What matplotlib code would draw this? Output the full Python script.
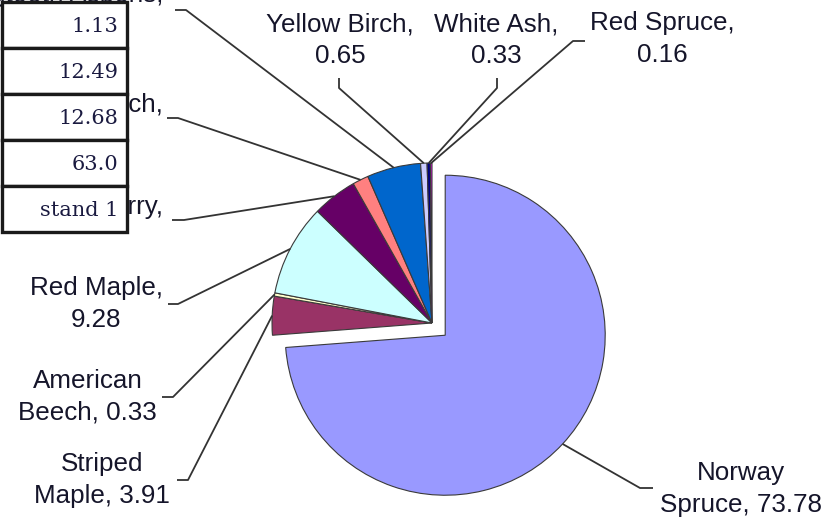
import matplotlib
matplotlib.use("Agg")
import matplotlib.pyplot as plt
from matplotlib.patches import Rectangle
import numpy as np

# ---------------- data ----------------
species = ["Norway\nSpruce", "Striped\nMaple", "American\nBeech", "Red Maple",
           "Black Cherry", "Paper Birch", "Bigtooth Aspens", "Yellow Birch",
           "White Ash", "Red Spruce"]
values = [73.78, 3.91, 0.33, 9.28, 4.52, 1.62, 5.42, 0.65, 0.33, 0.16]
colors = ["#9999FF", "#993366", "#FFFFCC", "#CCFFFF", "#660066", "#FF8080",
          "#0066CC", "#CCCCFF", "#000080", "#FF00FF"]
table_cells = ["1.13", "12.49", "12.68", "63.0", "stand 1"]

# ---------------- layout (pixel coords, y down) ----------------
W, H = 840, 521
def Y(y):
    return H - y

CX, CY, R = 432, 323, 160
explode = [18] + [0] * (len(values) - 1)

# text x, text y, ha, elbow1, elbow2
layout = [
    (741, 489, "center", (653, 488), (640, 488)),
    (170, 480, "right", (177, 480), (188, 480)),
    (157, 397, "right", (162, 397), (173, 397)),
    (163, 304, "right", (168, 304), (178, 304)),
    (163, 223, "right", (172, 220), (184, 220)),
    (163, 121, "right", (167, 118), (178, 118)),
    (163, 11, "right", (175, 10), (186, 10)),
    (340, 40, "center", (339, 78), (339, 88)),
    (496, 40, "center", (497, 78), (497, 88)),
    (662, 39, "center", (585, 41), (573, 41)),
]

FS = 26 * 72 / 100  # 26 px
TXT = "#15152a"

fig = plt.figure(figsize=(W / 100, H / 100), dpi=100)
ax = fig.add_axes([0, 0, 1, 1])
wedges, _ = ax.pie(values, colors=colors, startangle=90, counterclock=False,
                   explode=explode, radius=R, center=(CX, Y(CY)),
                   wedgeprops=dict(edgecolor="#3a3a3a", linewidth=0.8))
ax.set_xlim(0, W)
ax.set_ylim(0, H)
ax.set_aspect("equal")
ax.axis("off")

for w, name, v, (tx, ty, ha, e1, e2) in zip(wedges, species, values, layout):
    if "\n" in name:
        lab = f"{name}, {v:.2f}"
    else:
        lab = f"{name},\n{v:.2f}"
    ax.text(tx, Y(ty), lab, ha=ha, va="center", multialignment="center",
            fontsize=FS, family="Liberation Sans", color=TXT, linespacing=1.37,
            zorder=3)
    tm = np.deg2rad((w.theta1 + w.theta2) / 2)
    ax_x = w.center[0] + w.r * np.cos(tm)
    ax_y = w.center[1] + w.r * np.sin(tm)
    ax.plot([e1[0], e2[0], ax_x], [Y(e1[1]), Y(e2[1]), ax_y],
            color="#333333", lw=1.3, zorder=2, solid_capstyle="butt")

# table overlay
top, rh, left, right = 2, 46, 2, 127
ax.add_patch(Rectangle((0, Y(247)), 132, 247 - 232, facecolor="white",
                       edgecolor="none", zorder=5))
for i, cell in enumerate(table_cells):
    y0 = top + i * rh
    ax.add_patch(Rectangle((left, Y(y0 + rh)), right - left, rh,
                           facecolor="white", edgecolor="#1a1a1a", lw=2.4,
                           zorder=6))
    ax.text(118, Y(y0 + rh / 2 + 2), cell, ha="right", va="center",
            fontsize=15, family="DejaVu Serif", color="#1a1a40", zorder=7)

fig.savefig("out.png", dpi=100)
